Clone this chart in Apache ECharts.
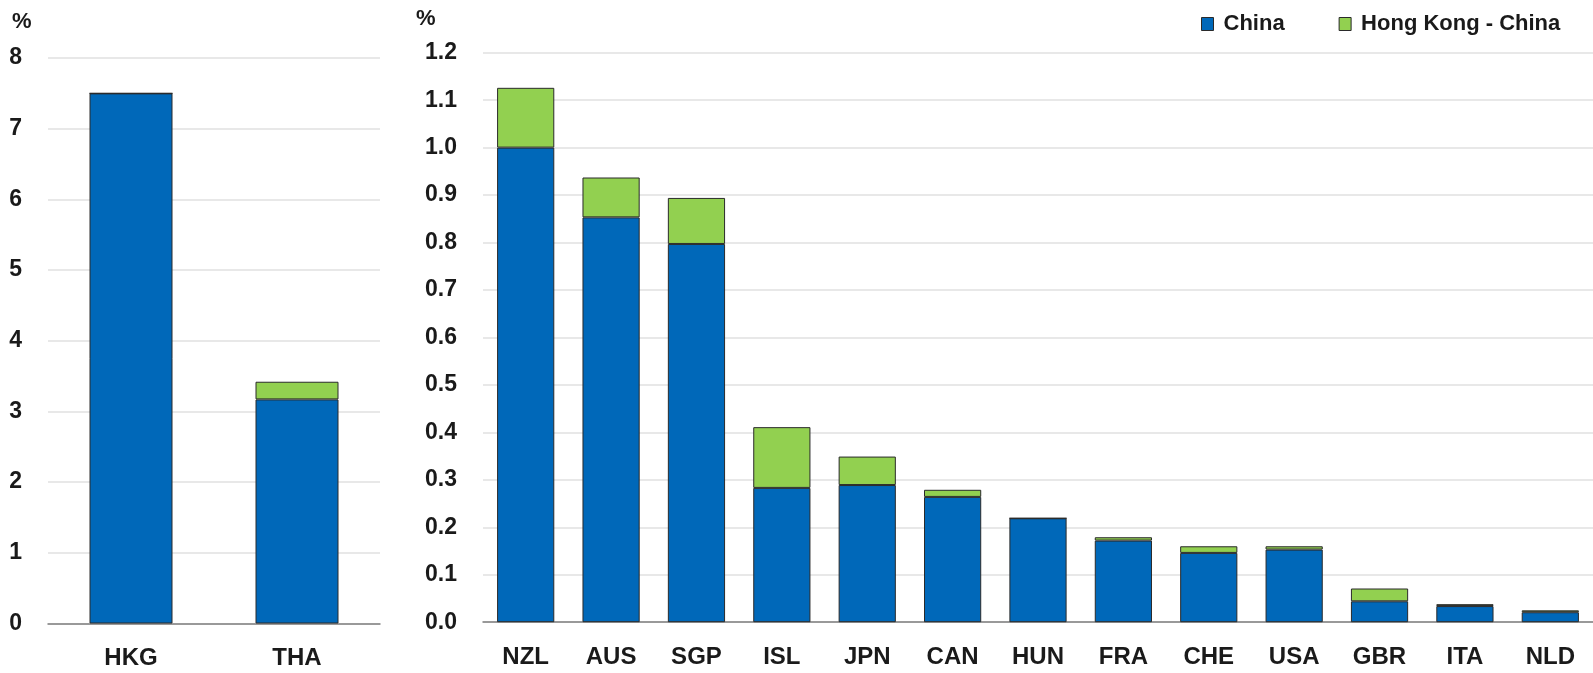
<!DOCTYPE html>
<html>
<head>
<meta charset="utf-8">
<script src="https://cdn.jsdelivr.net/npm/echarts@6/dist/echarts.min.js"></script>
<style>
html,body{margin:0;padding:0;background:#fff;}
#chart{width:1593px;height:673px;}
</style>
</head>
<body>
<div id="chart"></div>
<script>
const leftCategories = ['HKG', 'THA'];
const leftChina = [7.5, 3.17];
const leftHK = [0, 0.25];
const leftTicks = { min: 0, max: 8, interval: 1 };

const rightCategories = ['NZL', 'AUS', 'SGP', 'ISL', 'JPN', 'CAN', 'HUN', 'FRA', 'CHE', 'USA', 'GBR', 'ITA', 'NLD'];
const rightChina = [1.0, 0.853, 0.797, 0.283, 0.289, 0.264, 0.219, 0.172, 0.146, 0.153, 0.044, 0.034, 0.021];
const rightHK = [0.126, 0.084, 0.097, 0.128, 0.06, 0.015, 0, 0.007, 0.014, 0.007, 0.027, 0.004, 0.004];
const rightTicks = { min: 0, max: 1.2, interval: 0.1 };

const seriesNames = ['China', 'Hong Kong - China'];

const FONT = '"Liberation Sans Narrow", "Liberation Sans", Arial, sans-serif';
const BLUE = '#0068B9';
const GREEN = '#92D050';
const BORDER = '#2a2a2a';

const chart = echarts.init(document.getElementById('chart'), null, { renderer: 'canvas' });

function catAxis(idx, data) {
  return {
    type: 'category', gridIndex: idx, data: data,
    axisLine: { show: true, lineStyle: { color: '#7f7f7f', width: 1.5 } },
    axisTick: { show: false },
    axisLabel: { color: '#1a1a1a', fontFamily: FONT, fontWeight: 'bold', fontSize: 24, margin: 23 }
  };
}
function valAxis(idx, t, fmt) {
  return {
    type: 'value', gridIndex: idx, min: t.min, max: t.max, interval: t.interval,
    axisLine: { show: false }, axisTick: { show: false },
    splitLine: { lineStyle: { color: '#e0e0e0', width: 1.5 } },
    axisLabel: { color: '#1a1a1a', fontFamily: FONT, fontWeight: 'bold', fontSize: 23, margin: 26, align: 'right', formatter: fmt }
  };
}
function bar(name, x, y, data, color, width) {
  return {
    name: name, type: 'bar', stack: 's' + x, xAxisIndex: x, yAxisIndex: y, data: data,
    barWidth: width,
    itemStyle: { color: color, borderColor: BORDER, borderWidth: 1 },
    emphasis: { disabled: true }
  };
}

chart.setOption({
  animation: false,
  backgroundColor: '#ffffff',
  legend: {
    data: seriesNames,
    left: 1196, top: 8,
    itemWidth: 12, itemHeight: 13, itemGap: 54,
    icon: 'rect',
    itemStyle: { borderColor: BORDER, borderWidth: 1 },
    textStyle: { color: '#1a1a1a', fontFamily: FONT, fontWeight: 'bold', fontSize: 22, padding: [0, 0, 0, 5] }
  },
  graphic: [
    { type: 'text', left: 12, top: 11, style: { text: '%', fill: '#1a1a1a', font: 'bold 22px ' + FONT } },
    { type: 'text', left: 416, top: 8, style: { text: '%', fill: '#1a1a1a', font: 'bold 22px ' + FONT } }
  ],
  grid: [
    { left: 48, top: 58, width: 332, height: 565.5 },
    { left: 483, top: 52.7, width: 1122, height: 569.5 }
  ],
  xAxis: [catAxis(0, leftCategories), catAxis(1, rightCategories)],
  yAxis: [valAxis(0, leftTicks, v => String(v)), valAxis(1, rightTicks, v => v.toFixed(1))],
  series: [
    bar(seriesNames[0], 0, 0, leftChina, BLUE, '50%'),
    bar(seriesNames[1], 0, 0, leftHK, GREEN, '50%'),
    bar(seriesNames[0], 1, 1, rightChina, BLUE, '67%'),
    bar(seriesNames[1], 1, 1, rightHK, GREEN, '67%')
  ]
});
</script>
</body>
</html>
